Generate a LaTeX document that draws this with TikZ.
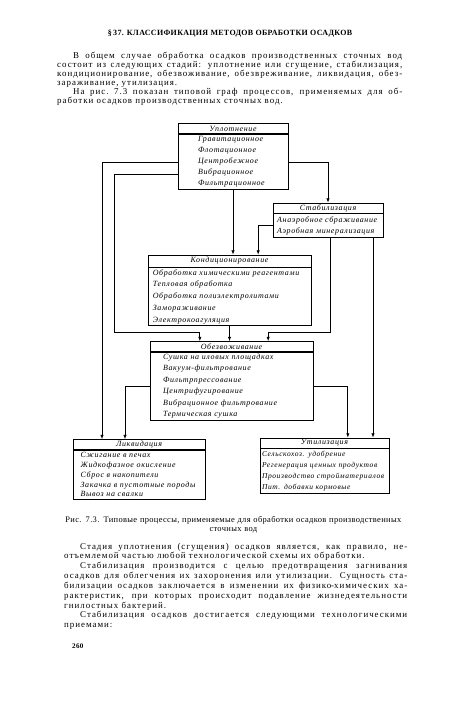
\documentclass[tikz,border=0pt]{standalone}
\usepackage{fontspec}
\setmainfont{Liberation Serif}[LetterSpace=4]
\newfontfamily\bookfont{Liberation Serif}[LetterSpace=11]
\newfontfamily\schemefont{Liberation Serif}[LetterSpace=8]
\usetikzlibrary{arrows.meta,positioning}
\setlength{\parindent}{0pt}
\newcommand{\redline}{\hspace*{0.48cm}}

\begin{document}
\begin{tikzpicture}[
  boxhead/.style={draw,line width=0.6pt,minimum height=0.3cm,inner sep=0pt,
    font=\schemefont\itshape\fontsize{6.8}{8}\selectfont},
  boxbody/.style={draw,line width=0.6pt,align=left,inner xsep=0pt,inner ysep=1pt,
    font=\schemefont\itshape\fontsize{6.8}{9.4}\selectfont},
  pagetext/.style={anchor=north west,inner sep=0pt,align=justify},
  flow/.style={-{Latex[length=1.3mm,width=1mm]},line width=0.6pt}]
\path[use as bounding box] (0,0) rectangle (13.5,-21.12);

\node[anchor=base,inner sep=0pt,font=\bfseries\fontsize{6.8}{8}\selectfont] (title) at (6.9,-1.05)
  {§\,37. КЛАССИФИКАЦИЯ МЕТОДОВ ОБРАБОТКИ ОСАДКОВ};

\node[pagetext,text width=10.35cm,font=\bookfont\fontsize{7.6}{7.7}\selectfont] (intro) at (1.71,-1.55)
  {\redline В общем случае обработка осадков производственных сточных вод\linebreak
   состоит из следующих стадий: уплотнение или сгущение, стабилизация,\linebreak
   кондиционирование, обезвоживание, обезвреживание, ликвидация, обез-\linebreak
   зараживание, утилизация.\par
   \redline На рис.~7.3 показан типовой граф процессов, применяемых для об-\linebreak
   работки осадков производственных сточных вод.};

% thickening
\node[boxhead,minimum width=3.3cm] (uplh) at (6.99,-3.86) {Уплотнение};
\node[boxbody,below=0pt of uplh,minimum width=3.3cm,text width=2.1cm,minimum height=1.65cm] (uplb)
  {Гравитационное\\Флотационное\\Центробежное\\Вибрационное\\Фильтрационное};

% stabilization
\node[boxhead,minimum width=3.3cm] (stabh) at (9.84,-6.24) {Стабилизация};
\node[boxbody,below=0pt of stabh,minimum width=3.3cm,text width=3.05cm,minimum height=0.72cm] (stabb)
  {Анаэробное сбраживание\\Аэробная минерализация};

% conditioning
\node[boxhead,minimum width=4.89cm,minimum height=0.36cm] (kondh) at (6.885,-7.83) {Кондиционирование};
\node[boxbody,below=0pt of kondh,minimum width=4.89cm,text width=4.6cm,minimum height=1.74cm,
  font=\schemefont\itshape\fontsize{6.8}{10}\selectfont] (kondb)
  {Обработка химическими реагентами\\Тепловая обработка\\Обработка полиэлектролитами\\Замораживание\\Электрокоагуляция};

% dewatering
\node[boxhead,minimum width=4.89cm] (obezh) at (6.945,-10.395) {Обезвоживание};
\node[boxbody,below=0pt of obezh,minimum width=4.89cm,text width=4.11cm,minimum height=2.04cm,
  font=\schemefont\itshape\fontsize{6.8}{9.8}\selectfont] (obezb)
  {Сушка на иловых площадках\\Вакуум-фильтрование\\Фильтрпрессование\\Центрифугирование\\Вибрационное фильтрование\\Термическая сушка};

% liquidation
\node[boxhead,minimum width=3.96cm] (liqh) at (4.17,-13.335) {Ликвидация};
\node[boxbody,below=0pt of liqh,minimum width=3.96cm,text width=3.5cm,minimum height=1.47cm,
  font=\schemefont\itshape\fontsize{6.8}{8.4}\selectfont] (liqb)
  {Сжигание в печах\\Жидкофазное окисление\\Сброс в накопители\\Закачка в пустотные породы\\Вывоз на свалки};

% utilization
\node[boxhead,minimum width=3.87cm] (utilh) at (9.735,-13.29) {Утилизация};
\node[boxbody,below=0pt of utilh,minimum width=3.87cm,text width=3.75cm,minimum height=1.35cm,
  font=\schemefont\itshape\fontsize{6.4}{9.4}\selectfont] (utilb)
  {Сельскохоз. удобрение\\Регенерация ценных продуктов\\Производство стройматериалов\\Пит. добавки кормовые};

\draw[flow] (uplb.east) -| (stabh.north);
\draw[flow] (uplb.south) -- (uplb.south |- kondh.north);
\draw[flow] (stabb.west) -| ([xshift=0.86cm]kondh.north);
\draw[flow] (uplb.west) -| ([xshift=-1.11cm]liqh.north);
\draw[flow] ([yshift=-0.38cm]uplb.west) -- ++(-1.89cm,0)
  |- ([xshift=-0.95cm,yshift=0.27cm]obezh.north) -- ([xshift=-0.95cm]obezh.north);
\draw[flow] (kondb.south) -- (kondb.south |- obezh.north);
\draw[flow] ([xshift=0.06cm]stabb.south) |- ([xshift=1.1cm,yshift=0.27cm]obezh.north)
  -- ([xshift=1.1cm]obezh.north);
\draw[flow] ([xshift=1.35cm]stabb.south) -- ([xshift=1.35cm]stabb.south |- utilh.north);
\draw[flow] (obezb.east) -| ([xshift=0.7cm]utilh.north);
\draw[flow] (obezb.west) -| ([xshift=-0.42cm]liqh.north);

\node[anchor=north,inner sep=0pt,text width=10.2cm,align=center,
  font=\fontsize{7.2}{7.7}\selectfont] (caption) at (7.0,-15.49)
  {Рис. 7.3. Типовые процессы, применяемые для обработки осадков производственных\\
   сточных вод};

\node[pagetext,text width=10.29cm,font=\bookfont\fontsize{7.6}{8.4}\selectfont] (stages) at (1.92,-16.28)
  {\redline Стадия уплотнения (сгущения) осадков является, как правило, не-\linebreak
   отъемлемой частью любой технологической схемы их обработки.\par
   \redline Стабилизация производится с целью предотвращения загнивания\linebreak
   осадков для облегчения их захоронения или утилизации. Сущность ста-\linebreak
   билизации осадков заключается в изменении их физико\mbox{-}химических ха-\linebreak
   рактеристик, при которых происходит подавление жизнедеятельности\linebreak
   гнилостных бактерий.\par
   \redline Стабилизация осадков достигается следующими технологическими\linebreak
   приемами:};

\node[anchor=base west,inner sep=0pt,font=\bfseries\fontsize{6}{7}\selectfont] (pageno) at (2.16,-19.44) {260};
\end{tikzpicture}
\end{document}
